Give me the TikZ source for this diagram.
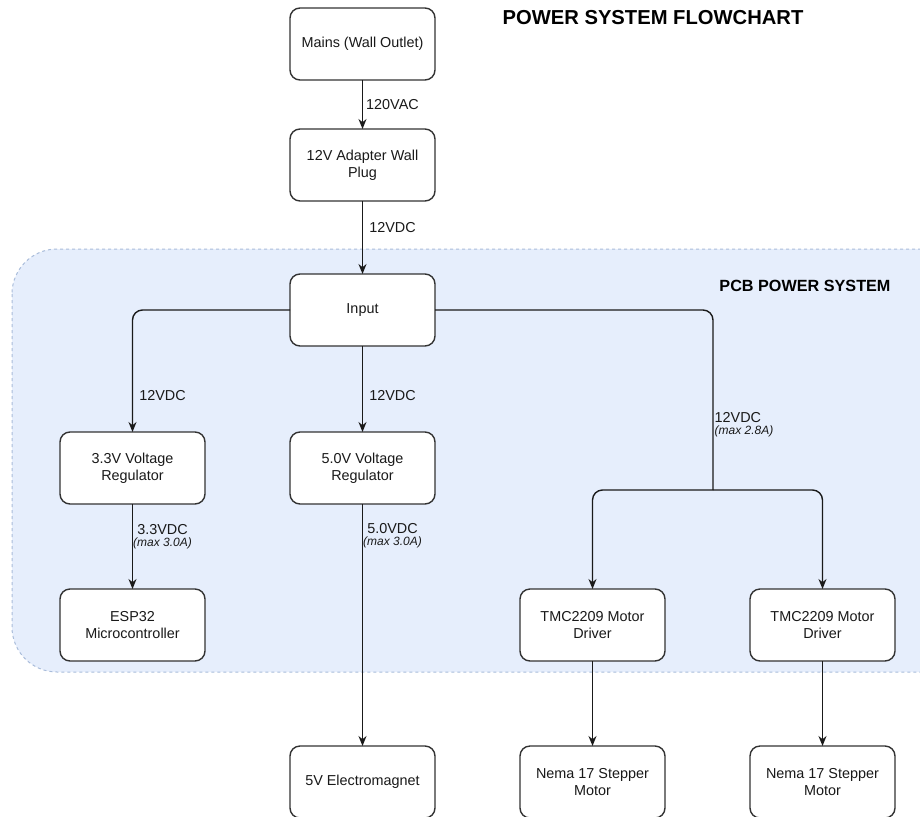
\documentclass[tikz,border=0pt]{standalone}
\usepackage{fontspec}
\setmainfont{Liberation Sans}
\usepackage{xcolor}
\usepackage{tikz}
\usetikzlibrary{arrows.meta,positioning,shapes,calc}
\pgfdeclarelayer{bg}
\pgfsetlayers{bg,main}
\definecolor{pcbfill}{HTML}{E6EEFC}
\definecolor{pcbline}{HTML}{A9BCDA}
\definecolor{boxline}{HTML}{333333}
\definecolor{wireline}{HTML}{1A1A1A}
\newcommand{\maxnote}[1]{{\fontsize{12}{13}\selectfont\itshape #1}}

\begin{document}
\begin{tikzpicture}[x=1pt,y=-1pt,>={Stealth[length=10pt,width=8pt]},
	main node/.style={rectangle,rounded corners=10pt,draw=boxline,fill=white,line width=1.4pt,
		font=\fontsize{14.4}{17}\selectfont,align=center,text=black!90,outer sep=0pt,
		minimum width=145pt, minimum height=72pt, inner sep=2pt},
	wire/.style={draw=wireline,line width=1.4pt,rounded corners=10pt},
	volt/.style={font=\fontsize{14.4}{15}\selectfont,inner sep=1pt,text=black!90,
		align=center,xshift=30pt}]

    \useasboundingbox (0,0) rectangle (920,816);

    \node[main node] (mains) at (362.5,44) {Mains (Wall Outlet)};
    \node[main node] (adapter) [below = 49pt of mains] {12V Adapter Wall\\Plug};
    \node[main node] (input) [below = 73pt of adapter] {Input};
    \node[main node] (reg5) [below = 86pt of input] {5.0V Voltage\\Regulator};
    \node[main node] (reg33) [left = 85pt of reg5] {3.3V Voltage\\Regulator};
    \node[main node] (esp) [below = 85pt of reg33] {ESP32\\Microcontroller};
    \node[main node] (magnet) [below = 242pt of reg5] {5V Electromagnet};
    \node[main node] (tmcA) [right = 315pt of esp] {TMC2209 Motor\\Driver};
    \node[main node] (tmcB) [right = 85pt of tmcA] {TMC2209 Motor\\Driver};
    \node[main node] (nemaA) [below = 85pt of tmcA] {Nema 17 Stepper\\Motor};
    \node[main node] (nemaB) [below = 85pt of tmcB] {Nema 17 Stepper\\Motor};
    \coordinate (split) at (713,490);

    \node[font=\bfseries\fontsize{20.2}{23}\selectfont] (title) at (653,18) {POWER SYSTEM FLOWCHART};
    \node[font=\bfseries\fontsize{16.2}{18}\selectfont,anchor=east] (pcb) at (894,286) {PCB POWER SYSTEM};

    \begin{pgfonlayer}{bg}
    \draw[pcbline,fill=pcbfill,dashed,line width=1pt,rounded corners=45pt] (12,249) rectangle (980,672);
    \end{pgfonlayer}

    \draw[->,wire] (mains) -- node[volt] {120VAC} (adapter);
    \draw[->,wire] (adapter) -- node[volt,pos=0.36] {12VDC} (input);
    \draw[->,wire] (input) -- node[volt,pos=0.58] {12VDC} (reg5);
    \draw[->,wire] (reg33) -- node[volt,pos=0.38] {3.3VDC\\[-3pt]\maxnote{(max 3.0A)}} (esp);
    \draw[->,wire] (reg5) -- node[volt,pos=0.13] {5.0VDC\\[-3pt]\maxnote{(max 3.0A)}} (magnet);
    \draw[->,wire] (tmcA) -- (nemaA);
    \draw[->,wire] (tmcB) -- (nemaB);

    \draw[->,wire] (input.west) -| node[volt,pos=0.85] {12VDC} (reg33);
    \draw[wire] (input.east) -| node[volt,xshift=-30pt,right,align=left,pos=0.82] {12VDC\\[-3pt]\maxnote{(max 2.8A)}} (split);
    \draw[->,wire] (split) -| (tmcA);
    \draw[->,wire] (split) -| (tmcB);

\end{tikzpicture}
\end{document}
